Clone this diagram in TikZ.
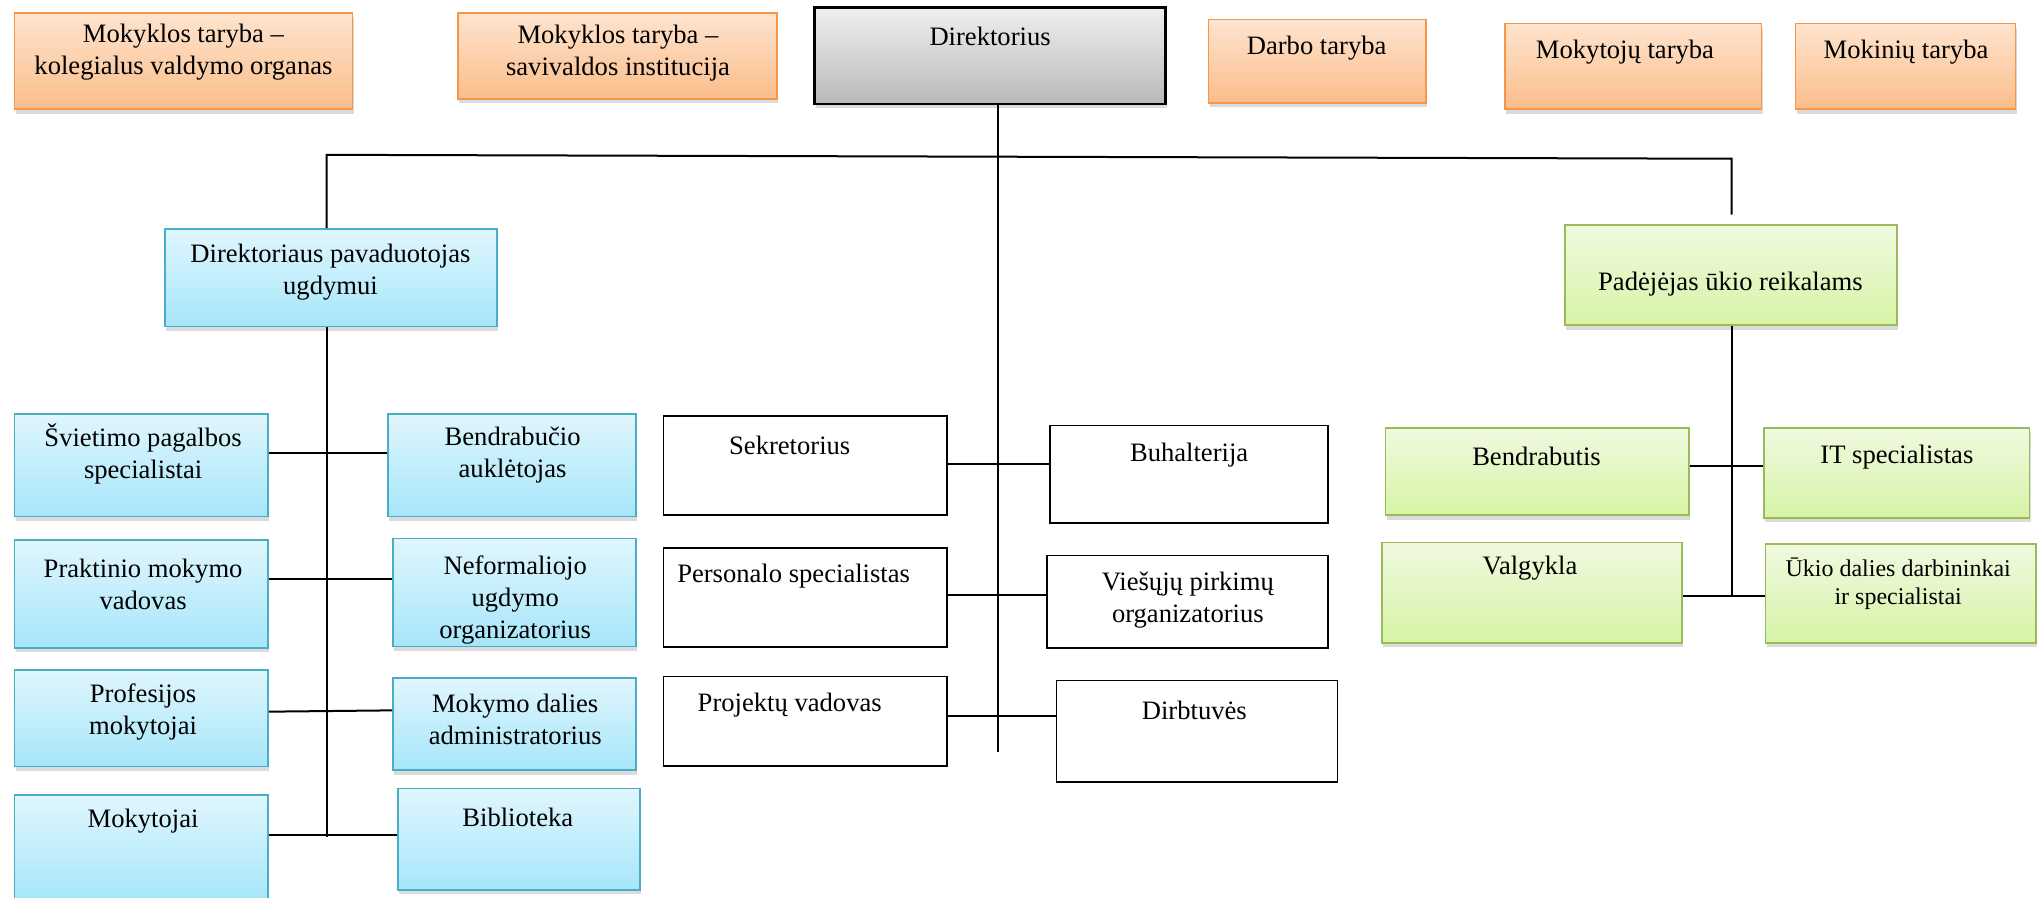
\documentclass[tikz,border=0pt]{standalone}
\usepackage{fontspec}
\setmainfont{Liberation Serif}
\usetikzlibrary{fit,shadows}
\definecolor{orB}{HTML}{F79646}
\definecolor{orT}{HTML}{FEE4CF}
\definecolor{orD}{HTML}{FBBD8A}
\definecolor{blB}{HTML}{4BACC6}
\definecolor{blT}{HTML}{E0F6FD}
\definecolor{blD}{HTML}{A6E6FA}
\definecolor{grB}{HTML}{9BBB59}
\definecolor{grT}{HTML}{F0F9E0}
\definecolor{grD}{HTML}{D6F4A6}
\definecolor{gyT}{HTML}{EFEFEF}
\definecolor{gyD}{HTML}{B9B9B9}
\tikzset{
  shd/.style={drop shadow={shadow xshift=0.6pt, shadow yshift=-2.2pt, opacity=0.28}},
  base/.style={rectangle, inner sep=0pt, line width=0.8pt},
  orbox/.style={base, shd, draw=orB, top color=orT, bottom color=orD},
  blbox/.style={base, shd, draw=blB, top color=blT, bottom color=blD},
  grbox/.style={base, shd, draw=grB, top color=grT, bottom color=grD},
  gybox/.style={base, shd, draw=black, line width=1.4pt, top color=gyT, bottom color=gyD},
  whbox/.style={base, draw=black, line width=0.9pt, fill=white},
  tx/.style={font=\fontsize{13.3}{15.9}\selectfont, align=center, inner sep=0pt},
  txs/.style={font=\fontsize{12}{14}\selectfont, align=center, inner sep=0pt},
  conn/.style={draw=black, line width=1pt}
}
\begin{document}
\begin{tikzpicture}[x=0.6505pt,y=-0.6505pt]
\useasboundingbox (0,0) rectangle (1568,690);
\fill[white] (0,0) rectangle (1568,690);

% top row
\node[orbox, fit={(11,10) (271,84)}] (a) {};
\node[tx] (ta) at (141,40) {Mokyklos taryba –\\kolegialus valdymo organas};
\node[orbox, fit={(352,10) (597,76)}] (b) {};
\node[tx] (tb) at (475,41) {Mokyklos taryba –\\savivaldos institucija};
\node[gybox, fit={(626,6) (896,80)}] (dir) {};
\node[tx] (tdir) at (761,28) {Direktorius};
\node[orbox, fit={(929,15) (1096,79)}] (dt) {};
\node[tx] (tdt) at (1012,37) {Darbo taryba};
\node[orbox, fit={(1157,18) (1354,84)}] (mt) {};
\node[tx] (tmt) at (1249,40) {Mokytojų taryba};
\node[orbox, fit={(1380,18) (1549,84)}] (mk) {};
\node[tx] (tmk) at (1465,40) {Mokinių taryba};

% second level
\node[blbox, fit={(127,176) (382,251)}] (dp) {};
\node[tx] (tdp) at (254,209) {Direktoriaus pavaduotojas\\ugdymui};
\node[grbox, fit={(1203,173) (1458,250)}] (pu) {};
\node[tx] (tpu) at (1330,218) {Padėjėjas ūkio reikalams};

% left column
\node[blbox, fit={(11,318) (206,397)}] (sv) {};
\node[tx] (tsv) at (110,349) {Švietimo pagalbos\\specialistai};
\node[blbox, fit={(298,318) (489,397)}] (ba) {};
\node[tx] (tba) at (394,350) {Bendrabučio\\auklėtojas};
\node[blbox, fit={(11,415) (206,498)}] (pm) {};
\node[tx] (tpm) at (110,449) {Praktinio mokymo\\vadovas};
\node[blbox, fit={(302,414) (489,497)}] (nu) {};
\node[tx] (tnu) at (396,461) {Neformaliojo\\ugdymo\\organizatorius};
\node[blbox, fit={(11,515) (206,589)}] (pf) {};
\node[tx] (tpf) at (110,547) {Profesijos\\mokytojai};
\node[blbox, fit={(302,521) (489,592)}] (md) {};
\node[tx] (tmd) at (396,553) {Mokymo dalies\\administratorius};
\node[blbox, fit={(11,611) (206,692)}] (mo) {};
\node[tx] (tmo) at (110,631) {Mokytojai};
\node[blbox, fit={(306,606) (492,684)}] (bi) {};
\node[tx] (tbi) at (398,628) {Biblioteka};

% middle column
\node[whbox, fit={(510,320) (728,396)}] (se) {};
\node[tx] (tse) at (607,342) {Sekretorius};
\node[whbox, fit={(807,327) (1021,402)}] (bu) {};
\node[tx] (tbu) at (914,350) {Buhalterija};
\node[whbox, fit={(510,421) (728,497)}] (ps) {};
\node[tx] (tps) at (610,443) {Personalo specialistas};
\node[whbox, fit={(805,427) (1021,498)}] (vp) {};
\node[tx] (tvp) at (913,461) {Viešųjų pirkimų\\organizatorius};
\node[whbox, fit={(510,520) (728,589)}] (pv) {};
\node[tx] (tpv) at (607,542) {Projektų vadovas};
\node[whbox, fit={(812,523) (1028,601)}] (di) {};
\node[tx] (tdi) at (918,546) {Dirbtuvės};

% right column
\node[grbox, fit={(1065,329) (1298,396)}] (bd) {};
\node[tx] (tbd) at (1181,351) {Bendrabutis};
\node[grbox, fit={(1356,329) (1560,398)}] (it) {};
\node[tx] (tit) at (1458,351) {IT specialistas};
\node[grbox, fit={(1062,417) (1293,494)}] (va) {};
\node[tx] (tva) at (1176,437) {Valgykla};
\node[grbox, fit={(1357,418) (1565,494)}] (ud) {};
\node[txs] (tud) at (1459,449) {Ūkio dalies darbininkai\\ir specialistai};

% connectors
\coordinate (tl) at (251,119);
\coordinate (tr) at (1331,122);
\coordinate (pe) at (1331,165);
\coordinate (cend) at (767,578);
\coordinate (dend) at (251,643);
\coordinate (pend) at (1331,458);

\draw[conn] (cend |- dir.south) -- (cend);
\draw[conn] (tl |- dp.north) -- (tl) -- (tr) -- (pe);
\draw[conn] (dend |- dp.south) -- (dend);
\draw[conn] (pend |- pu.south) -- (pend);

\draw[conn] (sv.east |- 0,348) -- (ba.west |- 0,348);
\draw[conn] (pm.east |- 0,445) -- (nu.west |- 0,445);
\draw[conn] (pf.east |- 0,547) -- (md.west |- 0,546);
\draw[conn] (mo.east |- 0,642) -- (bi.west |- 0,642);

\draw[conn] (se.east |- 0,357) -- (bu.west |- 0,357);
\draw[conn] (ps.east |- 0,457) -- (vp.west |- 0,457);
\draw[conn] (pv.east |- 0,550) -- (di.west |- 0,550);

\draw[conn] (bd.east |- 0,358) -- (it.west |- 0,358);
\draw[conn] (va.east |- 0,458) -- (ud.west |- 0,458);
\end{tikzpicture}
\end{document}
